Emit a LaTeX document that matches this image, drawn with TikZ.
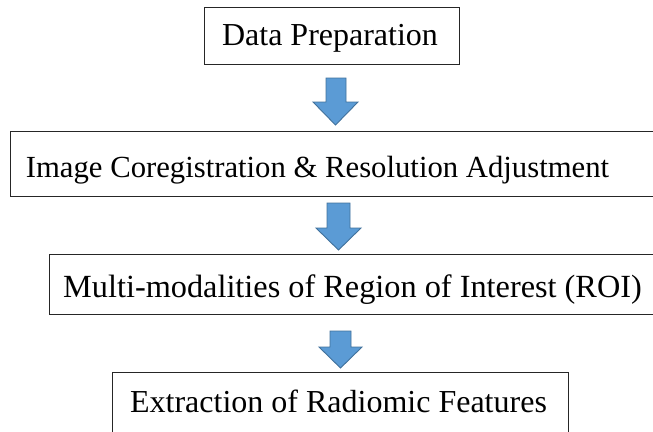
\documentclass[tikz,border=0pt]{standalone}
\usepackage{fontspec}
\setmainfont{Liberation Serif}
\definecolor{arrowfill}{HTML}{5B9BD5}
\definecolor{arrowedge}{HTML}{41719C}
\tikzset{
  box/.style={draw=black!85, line width=0.9pt, fill=white, rectangle, inner sep=0pt},
  lbl/.style={font=\fontsize{32}{36}\selectfont, inner sep=0pt, anchor=base},
  blockarrow/.style={fill=arrowfill, draw=arrowedge, line width=0.9pt, line join=miter}
}
\begin{document}
\begin{tikzpicture}[x=1pt,y=-1pt]
\useasboundingbox (0,0) rectangle (653,431);
\clip (0,0) rectangle (653,431);
% boxes
\node[box, minimum width=255pt, minimum height=57pt] (b1) at (331.5,35.5) {};
\node[box, minimum width=660pt, minimum height=65pt] (b2) at (340,163.5) {};
\node[box, minimum width=621pt, minimum height=60pt] (b3) at (359.5,284) {};
\node[box, minimum width=456pt, minimum height=88pt] (b4) at (340,416) {};
% labels
\node[lbl] (t1) at (330,45) {Data Preparation};
\node[lbl, font=\fontsize{30.7}{36}\selectfont] (t2) at (317.5,177) {Image Coregistration \& Resolution Adjustment};
\node[lbl, font=\fontsize{32.3}{36}\selectfont] (t3) at (352.5,297) {Multi-modalities of Region of Interest (ROI)};
\node[lbl] (t4) at (338.5,412) {Extraction of Radiomic Features};
% block arrows
\draw[blockarrow] (326,78) -- (346,78) -- (346,102) -- (358,102) -- (335.5,125) -- (313,102) -- (326,102) -- cycle;
\draw[blockarrow] (327,203) -- (350,203) -- (350,228) -- (361,228) -- (338.5,250) -- (316,228) -- (327,228) -- cycle;
\draw[blockarrow] (330,331) -- (351,331) -- (351,347) -- (362,347) -- (340.5,368) -- (319,347) -- (330,347) -- cycle;
\end{tikzpicture}
\end{document}
